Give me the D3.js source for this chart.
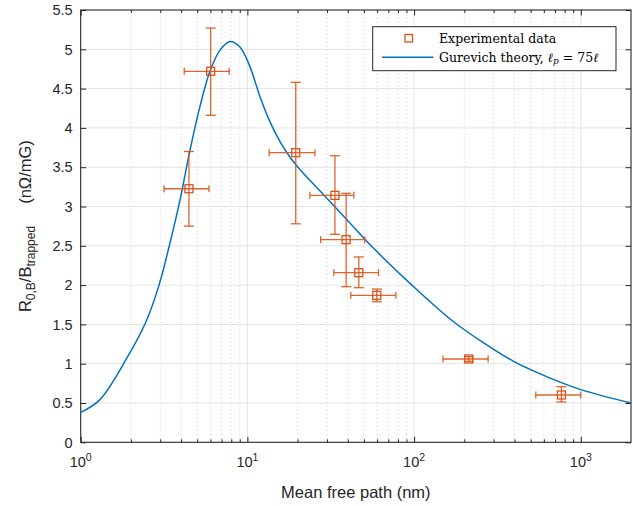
<!DOCTYPE html>
<html><head><meta charset="utf-8">
<script src="https://cdn.jsdelivr.net/npm/d3@7"></script>
<style>
html,body{margin:0;padding:0;background:#fff;}
svg{display:block;}
</style></head>
<body>
<svg id="chart" width="633" height="506"></svg>
<script>
// ---- data ----
const pointX    = [4.46, 6.02, 19.5, 33.5, 39.1, 46.6, 59.7, 212.8, 765];
const pointY    = [3.226, 4.72, 3.685, 3.142, 2.578, 2.158, 1.870, 1.060, 0.602];
const yErrLow   = [2.75, 4.16, 2.78, 2.646, 1.98, 1.967, 1.789, 1.03, 0.513];
const yErrHigh  = [3.70, 5.27, 4.58, 3.646, 3.168, 2.358, 1.95, 1.09, 0.707];
const xErrLow   = [3.16, 4.18, 13.5, 23.7, 27.5, 33.0, 41.7, 149, 537];
const xErrHigh  = [5.88, 7.78, 25.4, 43.5, 50.6, 61.2, 77.7, 278, 1000];

const theoryX = [1, 1.3, 1.89, 2.46, 2.95, 3.4, 3.94, 4.52, 5.19, 5.96, 6.85, 7.86, 9.02, 10.35, 11.89, 13.64, 15.66, 17.98, 20.64, 27.2, 41.2, 55.8, 97, 171, 259, 395, 650, 1000, 2000];
const theoryY = [0.38, 0.54, 1.07, 1.53, 2.0, 2.5, 3.08, 3.71, 4.27, 4.72, 4.99, 5.10, 5.03, 4.78, 4.40, 4.08, 3.83, 3.63, 3.47, 3.20, 2.79, 2.49, 2.0, 1.54, 1.27, 1.03, 0.82, 0.67, 0.50];

const yTicks = [0, 0.5, 1, 1.5, 2, 2.5, 3, 3.5, 4, 4.5, 5, 5.5];
const yTickLabels = ["0","0.5","1","1.5","2","2.5","3","3.5","4","4.5","5","5.5"];
const xMajorTicks = [1, 10, 100, 1000];
const xMajorExp = ["0","1","2","3"];
const xMinorTicks = [2,3,4,5,6,7,8,9,20,30,40,50,60,70,80,90,200,300,400,500,600,700,800,900];
const legendLabels = ["Experimental data", "Gurevich theory, "];

// ---- layout ----
const L = 80.7, R = 631, T = 10, B = 442.3;
const axisColor = "#262626";
const orange = "#D95319", blue = "#0072BD";
const svg = d3.select("#chart");
const x = d3.scaleLog().domain([1, 2000]).range([L, R]);
const y = d3.scaleLinear().domain([0, 5.5]).range([B, T]);

const grid = svg.append("g");
grid.selectAll("line.mx").data(xMinorTicks).join("line")
  .attr("x1", d => x(d)).attr("x2", d => x(d)).attr("y1", T).attr("y2", B)
  .attr("stroke", "#c4c4c4").attr("stroke-width", 0.8).attr("stroke-dasharray", "1,3");
grid.selectAll("line.Mx").data(xMajorTicks.slice(1)).join("line")
  .attr("x1", d => x(d)).attr("x2", d => x(d)).attr("y1", T).attr("y2", B)
  .attr("stroke", "#e3e3e3").attr("stroke-width", 1);
grid.selectAll("line.gy").data(yTicks.slice(1, -1)).join("line")
  .attr("x1", L).attr("x2", R).attr("y1", d => y(d)).attr("y2", d => y(d))
  .attr("stroke", "#e3e3e3").attr("stroke-width", 1);

// ---- axes with inward ticks ----
const axB = d3.axisBottom(x).tickValues(xMajorTicks).tickSize(-5.5).tickFormat("");
const axT = d3.axisTop(x).tickValues(xMajorTicks).tickSize(-5.5).tickFormat("");
const axBm = d3.axisBottom(x).tickValues(xMinorTicks).tickSize(-3).tickFormat("");
const axTm = d3.axisTop(x).tickValues(xMinorTicks).tickSize(-3).tickFormat("");
const axL = d3.axisLeft(y).tickValues(yTicks).tickSize(-5.5).tickFormat("");
const axR = d3.axisRight(y).tickValues(yTicks).tickSize(-5.5).tickFormat("");
function styleAxis(g){ g.selectAll("path").remove(); g.selectAll("line").attr("stroke", axisColor).attr("stroke-width", 1); }
svg.append("g").attr("transform", `translate(0,${B})`).call(axB).call(styleAxis);
svg.append("g").attr("transform", `translate(0,${T})`).call(axT).call(styleAxis);
svg.append("g").attr("transform", `translate(0,${B})`).call(axBm).call(styleAxis);
svg.append("g").attr("transform", `translate(0,${T})`).call(axTm).call(styleAxis);
svg.append("g").attr("transform", `translate(${L},0)`).call(axL).call(styleAxis);
svg.append("g").attr("transform", `translate(${R},0)`).call(axR).call(styleAxis);
svg.append("rect").attr("x", L).attr("y", T).attr("width", R - L).attr("height", B - T)
  .attr("fill", "none").attr("stroke", axisColor).attr("stroke-width", 1.1);

// tick labels
const font = "Liberation Sans, Arial, Helvetica, sans-serif";
svg.append("g").selectAll("text").data(yTicks).join("text")
  .attr("x", L - 8).attr("y", d => y(d)).attr("dy", "0.36em")
  .attr("text-anchor", "end").attr("font-family", font).attr("font-size", 14.5)
  .attr("fill", axisColor).text((d, i) => yTickLabels[i]);
const xl = svg.append("g").selectAll("text").data(xMajorTicks).join("text")
  .attr("x", d => x(d)).attr("y", B + 25).attr("text-anchor", "middle")
  .attr("font-family", font).attr("font-size", 14.5).attr("fill", axisColor);
xl.append("tspan").text("10");
xl.append("tspan").attr("dy", -6).attr("font-size", 10.5).text((d, i) => xMajorExp[i]);

// axis labels
svg.append("text").attr("x", (L + R) / 2).attr("y", 498).attr("text-anchor", "middle")
  .attr("font-family", font).attr("font-size", 16.5).attr("fill", axisColor).text("Mean free path (nm)");
const yl = svg.append("text").attr("transform", `translate(31,${(T + B) / 2}) rotate(-90)`)
  .attr("text-anchor", "middle").attr("font-family", font).attr("font-size", 16.5).attr("fill", axisColor);
yl.append("tspan").text("R");
yl.append("tspan").attr("dy", 4).attr("font-size", 12).text("0,B");
yl.append("tspan").attr("dy", -4).text("/B");
yl.append("tspan").attr("dy", 4).attr("font-size", 12).text("trapped");
yl.append("tspan").attr("dy", -4).attr("dx", 22).text("(nΩ/mG)");

// ---- theory curve ----
const line = d3.line().x(d => x(d[0])).y(d => y(d[1])).curve(d3.curveCatmullRom.alpha(0.5));
svg.append("path").datum(theoryX.map((v, i) => [v, theoryY[i]]))
  .attr("d", line).attr("fill", "none").attr("stroke", blue).attr("stroke-width", 1.5);

// ---- experimental data with error bars ----
const pts = pointX.map((v, i) => ({x: v, y: pointY[i], yl: yErrLow[i], yh: yErrHigh[i], xl: xErrLow[i], xh: xErrHigh[i]}));
const eb = svg.append("g").attr("stroke", orange).attr("stroke-width", 1.3).attr("fill", "none").attr("stroke-opacity", 0.9);
const cap = 5;
pts.forEach(p => {
  const cx = x(p.x), cy = y(p.y);
  eb.append("line").attr("x1", cx).attr("x2", cx).attr("y1", y(p.yl)).attr("y2", y(p.yh));
  eb.append("line").attr("x1", cx - cap).attr("x2", cx + cap).attr("y1", y(p.yl)).attr("y2", y(p.yl));
  eb.append("line").attr("x1", cx - cap).attr("x2", cx + cap).attr("y1", y(p.yh)).attr("y2", y(p.yh));
  eb.append("line").attr("x1", x(p.xl)).attr("x2", x(p.xh)).attr("y1", cy).attr("y2", cy);
  eb.append("line").attr("x1", x(p.xl)).attr("x2", x(p.xl)).attr("y1", cy - 3.5).attr("y2", cy + 3.5);
  eb.append("line").attr("x1", x(p.xh)).attr("x2", x(p.xh)).attr("y1", cy - 3.5).attr("y2", cy + 3.5);
});
svg.append("g").selectAll("rect").data(pts).join("rect")
  .attr("x", d => x(d.x) - 4).attr("y", d => y(d.y) - 4).attr("width", 8).attr("height", 8)
  .attr("fill", "none").attr("stroke", orange).attr("stroke-width", 1.3);

// ---- legend ----
const lg = svg.append("g");
lg.append("rect").attr("x", 372.7).attr("y", 26.7).attr("width", 243.3).attr("height", 44)
  .attr("fill", "#fff").attr("stroke", axisColor).attr("stroke-width", 1);
lg.append("rect").attr("x", 405).attr("y", 34.5).attr("width", 7.5).attr("height", 7.5)
  .attr("fill", "none").attr("stroke", orange).attr("stroke-width", 1.3);
lg.append("line").attr("x1", 382).attr("x2", 433.5).attr("y1", 57.3).attr("y2", 57.3)
  .attr("stroke", blue).attr("stroke-width", 1.5);
const serif = "DejaVu Serif, Liberation Serif, serif";
lg.append("text").attr("x", 439).attr("y", 42.5).attr("font-family", serif).attr("font-size", 12.5)
  .attr("fill", "#000").text(legendLabels[0]);
const t2 = lg.append("text").attr("x", 439).attr("y", 61.5).attr("font-family", serif).attr("font-size", 12.5).attr("fill", "#000");
t2.append("tspan").text(legendLabels[1]);
t2.append("tspan").attr("font-style", "italic").text("ℓ");
t2.append("tspan").attr("font-style", "italic").attr("font-size", 9).attr("dy", 2.5).text("p");
t2.append("tspan").attr("dy", -2.5).text(" = 75");
t2.append("tspan").attr("font-style", "italic").text("ℓ");
</script>
</body></html>
